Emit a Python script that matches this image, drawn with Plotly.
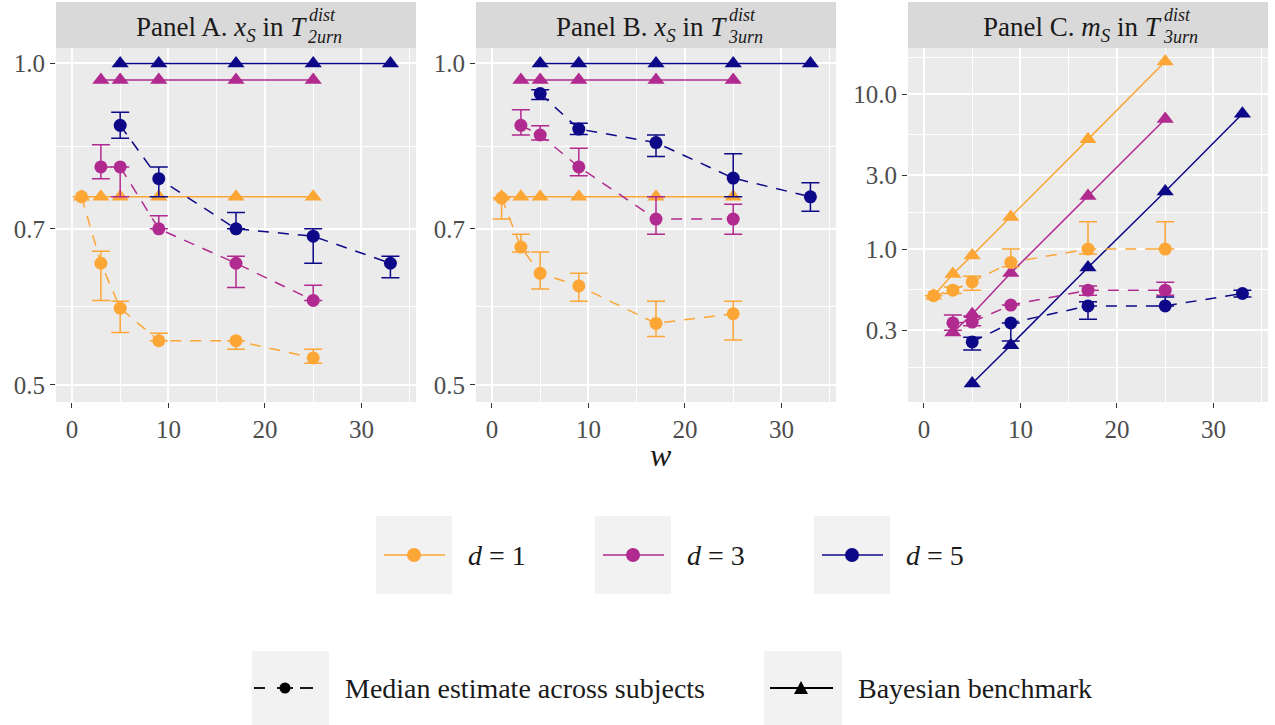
import numpy as np
import plotly.graph_objects as go

# ---- data -------------------------------------------------------------
w_d1 = [1, 3, 5, 9, 17, 25]
w_d3 = [3, 5, 9, 17, 25]
w_d5 = [5, 9, 17, 25, 33]

# Panel A: x_S in T^dist_2urn
a_bayes_d1 = [0.75, 0.75, 0.75, 0.75, 0.75, 0.75]
a_bayes_d3 = [0.965, 0.965, 0.965, 0.965, 0.965]
a_bayes_d5 = [1.0, 1.0, 1.0, 1.0, 1.0]
a_med_d1 = [0.75, 0.65, 0.59, 0.55, 0.55, 0.53]
a_lo_d1 = [0.75, 0.60, 0.56, 0.55, 0.54, 0.524]
a_hi_d1 = [0.75, 0.667, 0.599, 0.559, 0.55, 0.54]
a_med_d3 = [0.80, 0.80, 0.70, 0.65, 0.60]
a_lo_d3 = [0.78, 0.75, 0.70, 0.617, 0.60]
a_hi_d3 = [0.839, 0.80, 0.72, 0.66, 0.62]
a_med_d5 = [0.875, 0.78, 0.70, 0.689, 0.65]
a_lo_d5 = [0.851, 0.75, 0.70, 0.65, 0.63]
a_hi_d5 = [0.90, 0.80, 0.725, 0.70, 0.66]

# Panel B: x_S in T^dist_3urn
b_bayes_d1 = [0.75, 0.75, 0.75, 0.75, 0.75, 0.75]
b_bayes_d3 = [0.965, 0.965, 0.965, 0.965, 0.965]
b_bayes_d5 = [1.0, 1.0, 1.0, 1.0, 1.0]
b_med_d1 = [0.748, 0.673, 0.636, 0.619, 0.571, 0.583]
b_lo_d1 = [0.715, 0.666, 0.615, 0.599, 0.555, 0.551]
b_hi_d1 = [0.748, 0.692, 0.666, 0.636, 0.599, 0.599]
b_med_d3 = [0.875, 0.857, 0.80, 0.715, 0.715]
b_lo_d3 = [0.857, 0.848, 0.785, 0.692, 0.692]
b_hi_d3 = [0.905, 0.874, 0.833, 0.75, 0.738]
b_med_d5 = [0.937, 0.868, 0.843, 0.781, 0.75]
b_lo_d5 = [0.925, 0.858, 0.818, 0.75, 0.727]
b_hi_d5 = [0.945, 0.879, 0.857, 0.823, 0.773]

# Panel C: m_S in T^dist_3urn
c_bayes_d1 = [0.50, 0.69, 0.91, 1.61, 5.1, 16.2]
c_bayes_d3 = [0.29, 0.38, 0.70, 2.2, 6.9]
c_bayes_d5 = [0.136, 0.24, 0.76, 2.35, 7.45]
c_med_d1 = [0.50, 0.543, 0.615, 0.82, 1.0, 1.0]
c_lo_d1 = [0.50, 0.517, 0.543, 0.77, 0.93, 1.0]
c_hi_d1 = [0.50, 0.57, 0.669, 1.0, 1.5, 1.5]
c_med_d3 = [0.334, 0.338, 0.435, 0.543, 0.543]
c_lo_d3 = [0.30, 0.32, 0.435, 0.504, 0.504]
c_hi_d3 = [0.376, 0.37, 0.435, 0.577, 0.612]
c_med_d5 = [0.252, 0.334, 0.430, 0.430, 0.517]
c_lo_d5 = [0.223, 0.255, 0.353, 0.430, 0.49]
c_hi_d5 = [0.27, 0.334, 0.457, 0.49, 0.543]

d_labels = ["1", "3", "5"]
colors = ["#FCA636", "#B12A90", "#0D0887"]

x_ticks = [0, 10, 20, 30]
ab_ticks = [0.5, 0.7, 1.0]
ab_ticktext = ["0.5", "0.7", "1.0"]
c_ticks = [0.3, 1.0, 3.0, 10.0]
c_ticktext = ["0.3", "1.0", "3.0", "10.0"]

panel_titles = [
    ("Panel A. <i>x</i><sub><i>S</i></sub> in <i>T</i>", "dist", "2urn"),
    ("Panel B. <i>x</i><sub><i>S</i></sub> in <i>T</i>", "dist", "3urn"),
    ("Panel C. <i>m</i><sub><i>S</i></sub> in <i>T</i>", "dist", "3urn"),
]

# ---- layout helpers (pixel -> paper) ---------------------------------
W, H = 1275, 725
FONT = "Liberation Serif"
TICK_COL = "#4D4D4D"
TEXT_COL = "#1A1A1A"


def X(p):
    return p / W


def Y(p):
    return 1 - p / H


panel_px = [(56, 416), (476, 836), (908, 1268)]
plot_top, plot_bot, strip_top = 48, 402, 2
title_right = [308, 728, 1163]

fig = go.Figure()

panels = [
    ([a_bayes_d1, a_bayes_d3, a_bayes_d5],
     [a_med_d1, a_med_d3, a_med_d5],
     [a_lo_d1, a_lo_d3, a_lo_d5],
     [a_hi_d1, a_hi_d3, a_hi_d5]),
    ([b_bayes_d1, b_bayes_d3, b_bayes_d5],
     [b_med_d1, b_med_d3, b_med_d5],
     [b_lo_d1, b_lo_d3, b_lo_d5],
     [b_hi_d1, b_hi_d3, b_hi_d5]),
    ([c_bayes_d1, c_bayes_d3, c_bayes_d5],
     [c_med_d1, c_med_d3, c_med_d5],
     [c_lo_d1, c_lo_d3, c_lo_d5],
     [c_hi_d1, c_hi_d3, c_hi_d5]),
]
xs = [w_d1, w_d3, w_d5]

for pi, (bayes, med, lo, hi) in enumerate(panels):
    xa = "x" if pi == 0 else f"x{pi + 1}"
    ya = "y" if pi == 0 else f"y{pi + 1}"
    # Bayesian benchmark: solid lines with triangles
    for k in range(3):
        fig.add_trace(go.Scatter(
            x=xs[k], y=bayes[k], xaxis=xa, yaxis=ya, mode="lines+markers",
            line=dict(color=colors[k], width=1.5),
            marker=dict(symbol="triangle-up", size=15, color=colors[k]),
            showlegend=False, hoverinfo="skip"))
    # Median estimates: dashed lines, circles and error bars
    for k in range(3):
        y = np.array(med[k])
        fig.add_trace(go.Scatter(
            x=xs[k], y=med[k], xaxis=xa, yaxis=ya, mode="lines+markers",
            line=dict(color=colors[k], width=1.5, dash="11px,9px"),
            marker=dict(symbol="circle", size=13, color=colors[k]),
            error_y=dict(type="data", symmetric=False,
                         array=list(np.array(hi[k]) - y),
                         arrayminus=list(y - np.array(lo[k])),
                         color=colors[k], thickness=1.5, width=9),
            showlegend=False, hoverinfo="skip"))

axis_common = dict(showline=False, zeroline=False, gridcolor="white", gridwidth=1.6,
                   ticks="outside", ticklen=5, tickwidth=1.2, tickcolor="#333333",
                   tickfont=dict(family=FONT, size=25, color=TICK_COL))

layout = dict(width=W, height=H, margin=dict(l=0, r=0, t=0, b=0),
              paper_bgcolor="white", plot_bgcolor="#EBEBEB", showlegend=False)

ab_minor = [np.sqrt(0.35), np.sqrt(0.7)]
c_minor = [np.sqrt(0.03), np.sqrt(0.3), np.sqrt(3.0), np.sqrt(30.0), np.sqrt(300.0)]

for pi in range(3):
    sx = "" if pi == 0 else str(pi + 1)
    l, r = panel_px[pi]
    layout["xaxis" + sx] = dict(
        axis_common, domain=[X(l), X(r)], range=[-1.65, 35.65],
        tickmode="array", tickvals=x_ticks, anchor="y" + sx,
        minor=dict(tickmode="array", tickvals=[5, 15, 25, 35], showgrid=True,
                   gridcolor="white", gridwidth=0.8, ticks=""))
    if pi < 2:
        yr = [np.log10(0.482), np.log10(1.0337)]
        tv, tt, mv = ab_ticks, ab_ticktext, ab_minor
    else:
        yr = [np.log10(0.1032), np.log10(19.8)]
        tv, tt, mv = c_ticks, c_ticktext, c_minor
    layout["yaxis" + sx] = dict(
        axis_common, type="log", domain=[Y(plot_bot), Y(plot_top)], range=yr,
        tickmode="array", tickvals=tv, ticktext=tt, anchor="x" + sx,
        minor=dict(tickmode="array", tickvals=mv, showgrid=True,
                   gridcolor="white", gridwidth=0.8, ticks=""))

fig.update_layout(**layout)

shapes = []
annotations = []

# facet strips and their titles (T with stacked super/subscript)
for pi in range(3):
    l, r = panel_px[pi]
    shapes.append(dict(type="rect", xref="paper", yref="paper",
                       x0=X(l), x1=X(r), y0=Y(plot_top), y1=Y(strip_top),
                       fillcolor="#D9D9D9", line=dict(width=0), layer="below"))
    main, sup, sub = panel_titles[pi]
    tr = title_right[pi]
    annotations.append(dict(text=main, xref="paper", yref="paper", x=X(tr), y=Y(29),
                            xanchor="right", yanchor="middle", showarrow=False,
                            borderpad=0,
                            font=dict(family=FONT, size=27, color=TEXT_COL)))
    annotations.append(dict(text=f"<i>{sup}</i>", xref="paper", yref="paper",
                            x=X(tr), y=Y(15.5), xanchor="left", yanchor="middle",
                            showarrow=False, borderpad=0,
                            font=dict(family=FONT, size=18, color=TEXT_COL)))
    annotations.append(dict(text=f"<i>{sub}</i>", xref="paper", yref="paper",
                            x=X(tr - 1), y=Y(37.5), xanchor="left", yanchor="middle",
                            showarrow=False, borderpad=0,
                            font=dict(family=FONT, size=18, color=TEXT_COL)))

# x-axis title
annotations.append(dict(text="<i>w</i>", xref="paper", yref="paper", x=X(661), y=Y(455),
                        xanchor="center", yanchor="middle", showarrow=False,
                        font=dict(family=FONT, size=32, color=TEXT_COL)))

# colour legend (d = 1, 3, 5)
key_boxes = [376, 595, 814]
for k in range(3):
    bx = key_boxes[k]
    cy = 555
    shapes.append(dict(type="rect", xref="paper", yref="paper",
                       x0=X(bx), x1=X(bx + 76), y0=Y(594), y1=Y(516),
                       fillcolor="#F2F2F2", line=dict(width=0), layer="below"))
    shapes.append(dict(type="line", xref="paper", yref="paper",
                       x0=X(bx + 8), x1=X(bx + 69), y0=Y(cy), y1=Y(cy),
                       line=dict(color=colors[k], width=1.5)))
    cx = bx + 38
    shapes.append(dict(type="circle", xref="paper", yref="paper",
                       x0=X(cx - 7), x1=X(cx + 7), y0=Y(cy + 7), y1=Y(cy - 7),
                       fillcolor=colors[k], line=dict(width=0)))
    annotations.append(dict(text=f"<i>d</i> = {d_labels[k]}", xref="paper", yref="paper",
                            x=X(bx + 90), y=Y(cy), xanchor="left", yanchor="middle",
                            showarrow=False, font=dict(family=FONT, size=28, color=TEXT_COL)))

# line-type legend
cy2 = 688
shapes.append(dict(type="rect", xref="paper", yref="paper",
                   x0=X(252), x1=X(329), y0=Y(725), y1=Y(651),
                   fillcolor="#F2F2F2", line=dict(width=0), layer="below"))
for a, b in [(254, 265), (300, 313)]:
    shapes.append(dict(type="line", xref="paper", yref="paper",
                       x0=X(a), x1=X(b), y0=Y(cy2), y1=Y(cy2),
                       line=dict(color="black", width=1.8)))
shapes.append(dict(type="line", xref="paper", yref="paper",
                   x0=X(277), x1=X(293), y0=Y(cy2), y1=Y(cy2),
                   line=dict(color="black", width=1.8)))
shapes.append(dict(type="circle", xref="paper", yref="paper",
                   x0=X(279.5), x1=X(290.5), y0=Y(cy2 + 5.5), y1=Y(cy2 - 5.5),
                   fillcolor="black", line=dict(width=0)))
annotations.append(dict(text="Median estimate across subjects", xref="paper", yref="paper",
                        x=X(343), y=Y(cy2), xanchor="left", yanchor="middle",
                        showarrow=False, font=dict(family=FONT, size=28, color=TEXT_COL)))

shapes.append(dict(type="rect", xref="paper", yref="paper",
                   x0=X(764), x1=X(842), y0=Y(725), y1=Y(651),
                   fillcolor="#F2F2F2", line=dict(width=0), layer="below"))
shapes.append(dict(type="line", xref="paper", yref="paper",
                   x0=X(770), x1=X(833), y0=Y(cy2), y1=Y(cy2),
                   line=dict(color="black", width=1.8)))
tx = 801
tri = (f"M {X(tx - 7)} {Y(cy2 + 6)} L {X(tx + 7)} {Y(cy2 + 6)} "
       f"L {X(tx)} {Y(cy2 - 7)} Z")
shapes.append(dict(type="path", xref="paper", yref="paper", path=tri,
                   fillcolor="black", line=dict(width=0)))
annotations.append(dict(text="Bayesian benchmark", xref="paper", yref="paper",
                        x=X(856), y=Y(cy2), xanchor="left", yanchor="middle",
                        showarrow=False, font=dict(family=FONT, size=28, color=TEXT_COL)))

fig.update_layout(shapes=shapes, annotations=annotations)
fig.write_html("out.html")
